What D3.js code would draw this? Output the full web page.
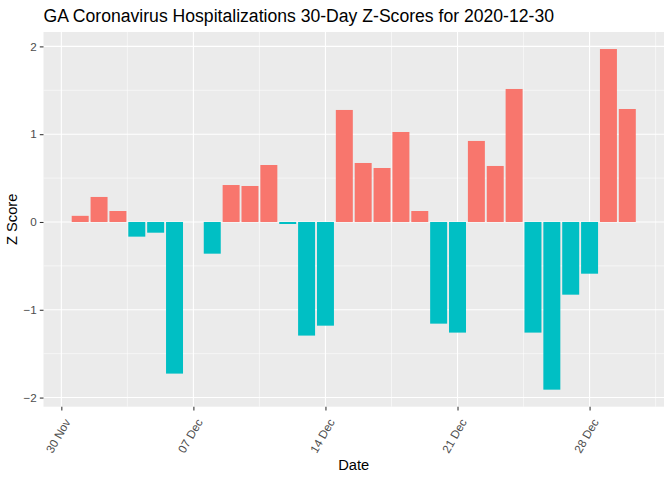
<!DOCTYPE html>
<html>
<head>
<meta charset="utf-8">
<script src="https://cdn.jsdelivr.net/npm/d3@7.9.0/dist/d3.min.js"></script>
<style>
  body { margin: 0; background: #fff; }
  svg { font-family: "Liberation Sans", Arial, sans-serif; }
</style>
</head>
<body>
<svg id="chart" width="672" height="480"></svg>
<script>
// ---------- Data ----------
const dates = d3.utcDays(new Date(Date.UTC(2020, 11, 1)), new Date(Date.UTC(2020, 11, 31)));
const zScores = [
  0.07, 0.285, 0.125, -0.167, -0.122, -1.727, 0, -0.361, 0.421, 0.41,
  0.649, -0.023, -1.294, -1.181, 1.276, 0.672, 0.615, 1.025, 0.125, -1.158,
  -1.26, 0.923, 0.638, 1.515, -1.26, -1.91, -0.828, -0.589, 1.97, 1.287
];
const tickDates = [
  new Date(Date.UTC(2020, 10, 30)),
  new Date(Date.UTC(2020, 11, 7)),
  new Date(Date.UTC(2020, 11, 14)),
  new Date(Date.UTC(2020, 11, 21)),
  new Date(Date.UTC(2020, 11, 28))
];
const tickLabels = ["30 Nov", "07 Dec", "14 Dec", "21 Dec", "28 Dec"];
const yTicks = [-2, -1, 0, 1, 2];
const yMinor = [-1.5, -0.5, 0.5, 1.5];

const data = dates.map((d, i) => ({ date: d, value: zScores[i] }));

// ---------- Layout ----------
const svg = d3.select("#chart");
const panel = { left: 43.5, right: 664, top: 32, bottom: 406.7 };
const DAY = 864e5;

// ggplot-like 5% expansion around bar extents
const xLo = +d3.min(dates) - 0.45 * DAY, xHi = +d3.max(dates) + 0.45 * DAY;
const xPad = (xHi - xLo) * 0.05;
const x = d3.scaleUtc()
  .domain([new Date(xLo - xPad), new Date(xHi + xPad)])
  .range([panel.left, panel.right]);

const yLo = d3.min(zScores), yHi = d3.max(zScores);
const yPad = (yHi - yLo) * 0.05;
const y = d3.scaleLinear()
  .domain([yLo - yPad, yHi + yPad])
  .range([panel.bottom, panel.top]);

// ---------- Panel ----------
svg.append("rect")
  .attr("x", panel.left).attr("y", panel.top)
  .attr("width", panel.right - panel.left)
  .attr("height", panel.bottom - panel.top)
  .attr("fill", "#EBEBEB");

// minor x gridlines halfway between weekly ticks
const xMinor = [];
for (let i = -1; i < tickDates.length; i++) {
  const t = new Date(+tickDates[0] + (i * 7 + 3.5) * DAY);
  if (x(t) > panel.left && x(t) < panel.right) xMinor.push(t);
}

const grid = svg.append("g");
grid.selectAll(".ymin").data(yMinor).join("line")
  .attr("x1", panel.left).attr("x2", panel.right)
  .attr("y1", (d) => y(d)).attr("y2", (d) => y(d))
  .attr("stroke", "#fff").attr("stroke-width", 0.55);
grid.selectAll(".xmin").data(xMinor).join("line")
  .attr("y1", panel.top).attr("y2", panel.bottom)
  .attr("x1", (d) => x(d)).attr("x2", (d) => x(d))
  .attr("stroke", "#fff").attr("stroke-width", 0.55);
grid.selectAll(".ymaj").data(yTicks).join("line")
  .attr("x1", panel.left).attr("x2", panel.right)
  .attr("y1", (d) => y(d)).attr("y2", (d) => y(d))
  .attr("stroke", "#fff").attr("stroke-width", 1.1);
grid.selectAll(".xmaj").data(tickDates).join("line")
  .attr("y1", panel.top).attr("y2", panel.bottom)
  .attr("x1", (d) => x(d)).attr("x2", (d) => x(d))
  .attr("stroke", "#fff").attr("stroke-width", 1.1);

// ---------- Bars ----------
const barW = x(new Date(+dates[0] + 0.9 * DAY)) - x(dates[0]);
svg.append("g").selectAll("rect").data(data).join("rect")
  .attr("x", (d) => x(d.date) - barW / 2)
  .attr("width", barW)
  .attr("y", (d) => y(Math.max(0, d.value)))
  .attr("height", (d) => Math.abs(y(d.value) - y(0)))
  .attr("fill", (d) => (d.value > 0 ? "#F8766D" : "#00BFC4"));

// ---------- Axes ----------
const yAxis = svg.append("g")
  .attr("transform", `translate(${panel.left},0)`)
  .call(d3.axisLeft(y).tickValues(yTicks).tickSize(3.7).tickPadding(3).tickFormat(d3.format("d")));
yAxis.select(".domain").remove();
yAxis.selectAll("line").attr("stroke", "#333333").attr("stroke-width", 1.07);
yAxis.selectAll("text").attr("fill", "#4D4D4D").attr("font-size", 11.7)
  .attr("font-family", "Liberation Sans, Arial, sans-serif");

const xAxis = svg.append("g")
  .attr("transform", `translate(0,${panel.bottom})`)
  .call(d3.axisBottom(x).tickValues(tickDates).tickSize(3.7)
    .tickFormat((d, i) => tickLabels[i]));
xAxis.select(".domain").remove();
xAxis.selectAll("line").attr("stroke", "#333333").attr("stroke-width", 1.07);
xAxis.selectAll("text")
  .attr("fill", "#4D4D4D").attr("font-size", 11.7)
  .attr("font-family", "Liberation Sans, Arial, sans-serif")
  .attr("text-anchor", "end")
  .attr("dy", null).attr("y", null)
  .attr("transform", "translate(2,11) rotate(-60)")
  .attr("dy", "0.71em");

// ---------- Titles ----------
svg.append("text")
  .attr("x", panel.left).attr("y", 22)
  .attr("font-size", 17.6).attr("fill", "#000")
  .text("GA Coronavirus Hospitalizations 30-Day Z-Scores for 2020-12-30");

svg.append("text")
  .attr("x", (panel.left + panel.right) / 2).attr("y", 470)
  .attr("text-anchor", "middle").attr("font-size", 14.7)
  .text("Date");

svg.append("text")
  .attr("transform", `translate(17,${(panel.top + panel.bottom) / 2}) rotate(-90)`)
  .attr("text-anchor", "middle").attr("font-size", 14.7)
  .text("Z Score");
</script>
</body>
</html>
